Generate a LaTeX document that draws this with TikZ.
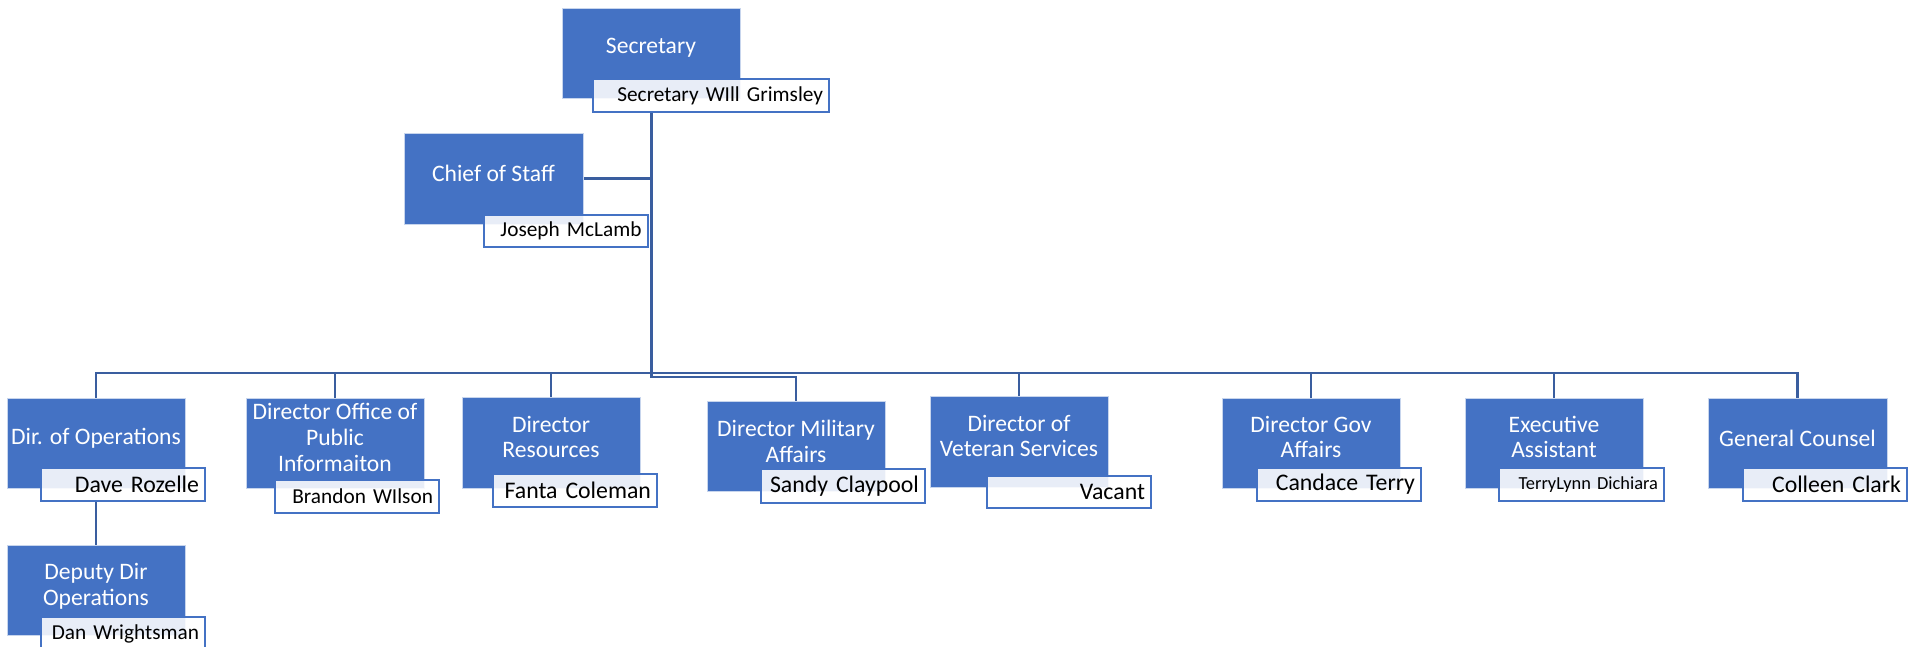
\documentclass[tikz,border=0pt]{standalone}
\usepackage{fontspec}
\setmainfont{Carlito}
\usetikzlibrary{backgrounds}
\definecolor{accent}{HTML}{4472C4}
\definecolor{linec}{HTML}{3A5E9F}
\begin{document}
\begin{tikzpicture}[x=1pt,y=-1pt,
  bluebox/.style={fill=accent, draw=white!70!accent, line width=0.8pt, minimum width=178pt, minimum height=90pt, inner sep=0pt},
  bluetext/.style={text=white, font=\fontsize{23.6}{25.8}\selectfont, align=center, inner sep=0pt},
  namebox/.style={fill=white, fill opacity=0.88, text opacity=1, draw=accent, line width=2pt, minimum height=33pt, text width=152pt, align=right, inner xsep=6pt, inner ysep=0pt, font=\fontsize{23.8}{26}\selectfont},
  smallname/.style={font=\fontsize{21.3}{24}\selectfont},
  tinyname/.style={font=\fontsize{18.4}{21}\selectfont},
  conn/.style={draw=linec, line width=2.6pt}]
\useasboundingbox (0,0) rectangle (1927,647);
\clip (0,0) rectangle (1927,647);

% top level
\node[bluebox] (sec) at (651,53) {};
\node[bluetext] (secT) at (651,48) {Secretary};
\node[namebox, smallname, text width=224pt] (secname) at (711,95.5) {Secretary WIll Grimsley};

\node[bluebox, minimum width=179pt, minimum height=91pt] (chief) at (493.5,178.5) {};
\node[bluetext] (chiefT) at (493.5,173) {Chief of Staff};
\node[namebox, smallname, minimum height=32pt] (chiefname) at (565.5,231) {Joseph McLamb};

% second level
\node[bluebox] (ops) at (96,443) {};
\node[bluetext] (opsT) at (96,438) {Dir. of Operations};
\node[namebox] (opsname) at (123,484.5) {Dave Rozelle};

\node[bluebox] (pub) at (335,443) {};
\node[bluetext] (pubT) at (335,437.5) {Director Office of\\Public\\Informaiton};
\node[namebox, smallname] (pubname) at (357,496.5) {Brandon WIlson};

\node[bluebox, minimum height=91pt] (res) at (551,442.5) {};
\node[bluetext] (resT) at (551,437) {Director\\Resources};
\node[namebox] (resname) at (575,490.5) {Fanta Coleman};

\node[bluebox] (mil) at (796,446) {};
\node[bluetext] (milT) at (796,441) {Director Military\\Affairs};
\node[namebox, minimum height=34pt] (milname) at (843,486) {Sandy Claypool};

\node[bluebox, minimum height=91pt] (vet) at (1019,441.5) {};
\node[bluetext] (vetT) at (1019,436) {Director of\\Veteran Services};
\node[namebox, minimum height=32pt] (vetname) at (1069,492) {Vacant};

\node[bluebox] (gov) at (1311,443) {};
\node[bluetext] (govT) at (1311,437) {Director Gov\\Affairs};
\node[namebox] (govname) at (1339,484.5) {Candace Terry};

\node[bluebox] (exec) at (1554,443) {};
\node[bluetext] (execT) at (1554,437) {Executive\\Assistant};
\node[namebox, tinyname, text width=153pt] (execname) at (1581.5,484.5) {TerryLynn Dichiara};

\node[bluebox, minimum width=179pt] (gc) at (1797.5,443) {};
\node[bluetext] (gcT) at (1797.5,438) {General Counsel};
\node[namebox] (gcname) at (1825,484.5) {Colleen Clark};

% third level
\node[bluebox] (dep) at (96,590) {};
\node[bluetext] (depT) at (96,586) {Deputy Dir\\Operations};
\node[namebox, smallname] (depname) at (123,633.5) {Dan Wrightsman};

% connectors
\coordinate (trunk) at (651,373);
\coordinate (trunkbot) at (651,378);
\coordinate (trunkmil) at (651,377);
\begin{scope}[on background layer]
\draw[conn, line width=3pt] (sec.south |- secname.south) -- (trunkbot);
\draw[conn] (chief.east) -- (chief.east -| trunk);
\draw[conn] (trunk) -| (ops.north);
\draw[conn] (trunk) -| (pub.north);
\draw[conn] (trunk) -| (res.north);
\draw[conn] (trunkmil) -| (mil.north);
\draw[conn] (trunk) -| (vet.north);
\draw[conn] (trunk) -| (gov.north);
\draw[conn] (trunk) -| (exec.north);
\draw[conn] (trunk) -| (gc.north);
\draw[conn] (ops.south |- opsname.south) -- (dep.north);
\end{scope}
\end{tikzpicture}
\end{document}
